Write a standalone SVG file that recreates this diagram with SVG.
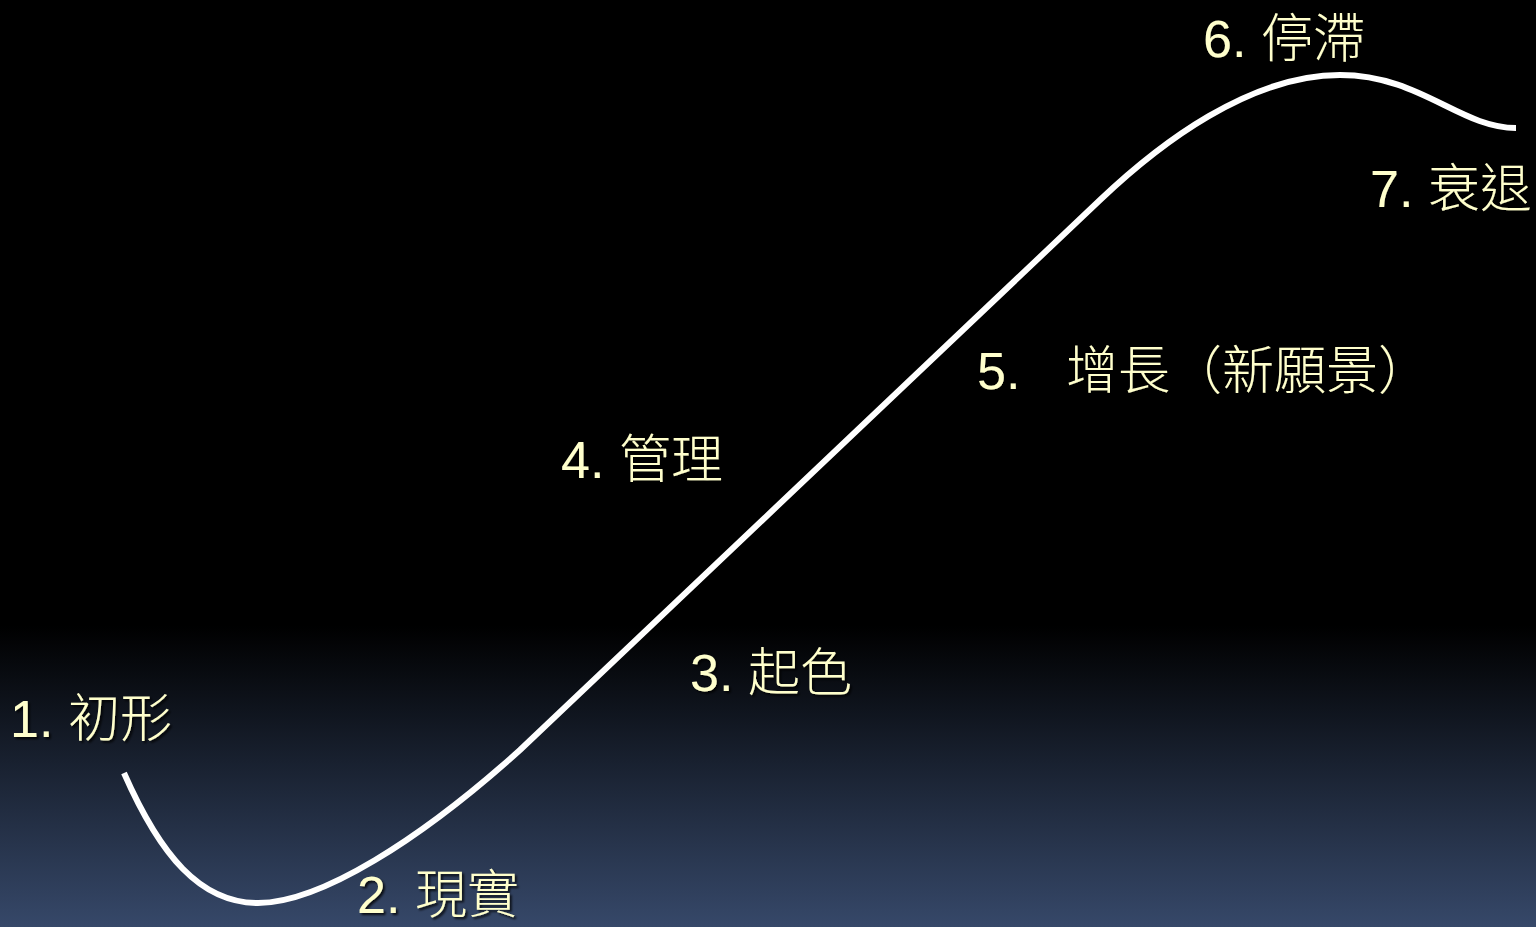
<svg xmlns="http://www.w3.org/2000/svg" width="1536" height="927" viewBox="0 0 1536 927">
<defs>
<linearGradient id="bg" x1="0" y1="0" x2="0" y2="927" gradientUnits="userSpaceOnUse">
<stop offset="0" stop-color="#000000"/>
<stop offset="0.675" stop-color="#000000"/>
<stop offset="1" stop-color="#364869"/>
</linearGradient>
<filter id="sh" x="-10%" y="-20%" width="130%" height="150%">
<feDropShadow dx="2" dy="2" stdDeviation="1.2" flood-color="#000000" flood-opacity="0.8"/>
</filter>
</defs>
<style>
.lbl{font-family:"Liberation Sans","Noto Sans CJK TC",sans-serif;font-size:52px;fill:#ffffcc;filter:url(#sh)}
.cjk{font-family:"Noto Sans CJK TC","Noto Sans CJK SC",sans-serif;font-weight:300}
.curve{fill:none;stroke:#ffffff;stroke-width:6}
</style>
<rect x="0" y="0" width="1536" height="927" fill="url(#bg)"/>
<g id="connectors">
<path class="curve" d="M124,773 C160,855 200,903 258,903 C320,903 420,840 520,750 L1100,200 C1160,143 1250,75 1340,75 C1420,75 1460,128 1516,128"/>
</g>
<g id="node1"><text class="lbl" x="10" y="737">1. <tspan class="cjk" x="68">初形</tspan></text></g>
<g id="node2"><text class="lbl" x="357" y="913">2. <tspan class="cjk" x="415">現實</tspan></text></g>
<g id="node3"><text class="lbl" x="690" y="691">3. <tspan class="cjk" x="748">起色</tspan></text></g>
<g id="node4"><text class="lbl" x="561" y="478">4. <tspan class="cjk" x="619">管理</tspan></text></g>
<g id="node5"><text class="lbl" x="977" y="389">5.<tspan class="cjk" x="1066">增長（新願景）</tspan></text></g>
<g id="node6"><text class="lbl" x="1203" y="57">6. <tspan class="cjk" x="1261">停滯</tspan></text></g>
<g id="node7"><text class="lbl" x="1370" y="207">7. <tspan class="cjk" x="1428">衰退</tspan></text></g>
</svg>
